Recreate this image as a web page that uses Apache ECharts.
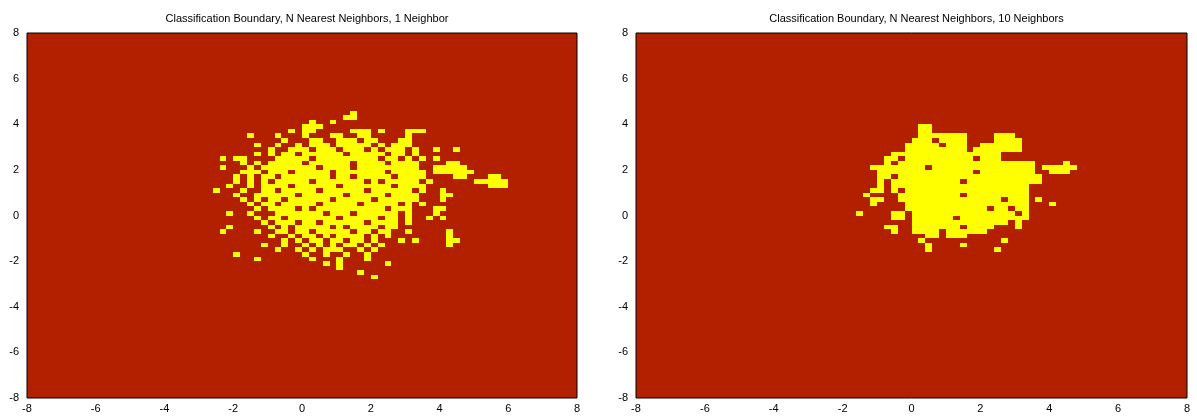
<!DOCTYPE html>
<html><head><meta charset="utf-8">
<script src="https://cdn.jsdelivr.net/npm/echarts@6/dist/echarts.min.js"></script>
<style>html,body{margin:0;padding:0;background:#fff}#c{width:1197px;height:418px}</style>
</head><body><div id="c"></div>
<script>
// ---------- data ----------
const titles = [
  'Classification Boundary, N Nearest Neighbors, 1 Neighbor',
  'Classification Boundary, N Nearest Neighbors, 10 Neighbors'
];
const axisMin = -8, axisMax = 8, axisStep = 2;
// decision map: cells of 0.2 x 0.2, columns from x=-3.0 to 6.0, rows from y=4.6 (top) down to -3.0
// '#' = class 1 (yellow), '.' = class 0 (dark red); spaces only group every 1.0 unit
const cellSize = 0.2, gridX0 = -3.0, gridYTop = 4.6;
const leftRows = [
  "..... ..... ..... ..... ..#.. ..... ..... ..... .....",
  "..... ..... ..... ..... .##.. ..... ..... ..... .....",
  "..... ..... ..... .#..# ..... ..... ..... ..... .....",
  "..... ..... ..... ###.. ..... ..... ..... ..... .....",
  "..... ..... ...#. ##... ..### .#... ###.. ..... .....",
  "..... ..#.. .#... #...# #..## ..... #.... ..... .....",
  "..... ..... ..#.. .##.. ###.# #...# #.... ..... .....",
  "..... ...#. .#..# .###. ##### .#.## #.... ..... .....",
  "..... ..... #..## #.### .###. #.### .#..# ..#.. .....",
  "..... ...#. #.##. ##### #.### ##.## .#... ..... .....",
  "...#. ##... .#### #.### ##### #.##. #.#.# ..... .....",
  "..... .#.#. ##### .#### ##.## ##.## ##... .##.. .....",
  "...#. ..#.# ##### ##.## ##.## ##### ##..# ####. .....",
  "..... .###. ###.# ####. ##### ##.## ###.# ##### .....",
  "..... #.#.# #.### ####. ##.## ###.# ###.. ..##. ..##.",
  "..... #.#.# .#### #.### ####. #.### ##.#. ..... #####",
  "....# ..#.# ###.# ##### .#### ###.# ###.. ..... ..###",
  "..#.. .#..# #.### ##.## ####. ##### #.#.. #.... .....",
  "..... #..## ####. ##### #.### ##.## ##... ##... .....",
  "..... .#.#. ##.## ####. ##### .#### ##... #.... .....",
  "..... ..#.# #.### ##.## ###.# ####. #.#.. ..... .....",
  "..... ...#. ####. #.### ##### ##.## #...# #.... .....",
  "....# ..#.. .#### ###.# ##.## ####. #...# ..... .....",
  "..... ...#. ##.## ##### .#### #.##. #..#. #.... .....",
  "..... ....# .###. ##.## ####. ####. #.... ..... .....",
  "....# ..... #.#.# ####. #.### #.##. ..... ..... .....",
  "...#. ...#. .##.# #.### ##.## .##.. #.... .#... .....",
  "..... ..... #..#. ##.#. ####. #.#.. ..... .#... .....",
  "..... ..... ..#.# .##.# #.##. #...# .#... .##.. .....",
  "..... ....# ..#.. #.#.# .##.# .#... ..... .#... .....",
  "..... ..... .#..# .#.## #..#. #.... ..... ..... .....",
  "..... #.... ..... #..#. .#..# ..... ..... ..... .....",
  "..... ...#. ..... .#... #...# ..... ..... ..... .....",
  "..... ..... ..... ...#. #.... ..#.. ..... ..... .....",
  "..... ..... ..... ..... #.... ..... ..... ..... .....",
  "..... ..... ..... ..... ...#. ..... ..... ..... .....",
  "..... ..... ..... ..... ..... #.... ..... ..... .....",
  "..... ..... ..... ..... ..... ..... ..... ..... ....."
];
const rightRows = [
  "..... ..... ..... ..... ..... ..... ..... ..... .....",
  "..... ..... ..... ..... ..... ..... ..... ..... .....",
  "..... ..... ..... ..... ..... ..... ..... ..... .....",
  "..... ..... ..... .##.. ..... ..... ..... ..... .....",
  "..... ..... ..... .##.. ..... ..... ..... ..... .....",
  "..... ..... ..... .#### ###.. ..### ..... ..... .....",
  "..... ..... ..... ###.# ###.. ..### #.... ..... .....",
  "..... ..... ....# ####. ###.. ##### #.... ..... .....",
  "..... ..... ....# ##### ###.# ##### #.... ..... .....",
  "..... ..... ..### ##### ##### ###.. ..... ..... .....",
  "..... ..... .##.# ##### ####. ###.. ..... ..... .....",
  "..... ..... .#.## ##### ##### ##### ###.. ..#.. .....",
  "..... ....# ##### ##.## ##### ##### ###.# ####. .....",
  "..... ..... ##### ##### ####. ##### ###.. ###.. .....",
  "..... ..... ##.## ##### ##### ##### ####. ..... .....",
  "..... ..... #.### ##### ##.## ##### ####. ..... .....",
  "..... ..... #.### ##### ##### ##### ##... ..... .....",
  "..... ....# #.#.# ##### ##### ##### ##... ..... .....",
  "..... ...#. ...## ##### ##.## ##### ##... ..... .....",
  "..... ....# #..## ##### ##### ###.# ##.#. ..... .....",
  "..... ....# ....# ##### ##### ##### ##... #.... .....",
  "..... ..... ....# ##### ##### #.##. ##... ..... .....",
  "..... ..#.. ..##. ##### ##### ##### .#... ..... .....",
  "..... ..... ..##. ##### #.### ##### ##... ..... .....",
  "..... ..... ..... ##### ##### ####. #.... ..... .....",
  "..... ..... .##.. ##### ##.## ##... #.... ..... .....",
  "..... ..... ..#.. ####. ##### #.... ..... ..... .....",
  "..... ..... ..... ..##. ###.. ..... ..... ..... .....",
  "..... ..... ..... .#... ..... ...#. ..... ..... .....",
  "..... ..... ..... ..#.. ..#.. ..... ..... ..... .....",
  "..... ..... ..... ..#.. ..... ..#.. ..... ..... ....."
];
// ---------- styles ----------
const DARK = '#b32000', YELLOW = '#ffff00';
const FONT = 'Liberation Sans, Arial, sans-serif';

function toRuns(rows) {
  const out = [];
  rows.forEach((r, i) => {
    const s = r.replace(/ /g, '');
    const yTop = gridYTop - i * cellSize;
    let j = 0;
    while (j < s.length) {
      if (s[j] === '#') {
        let k = j;
        while (k < s.length && s[k] === '#') k++;
        out.push([gridX0 + j * cellSize, gridX0 + k * cellSize, yTop - cellSize, yTop]);
        j = k;
      } else j++;
    }
  });
  return out;
}

function renderCells(params, api) {
  const a = api.coord([api.value(0), api.value(3)]);
  const b = api.coord([api.value(1), api.value(2)]);
  const x = Math.round(a[0]), y = Math.round(a[1]);
  return {
    type: 'rect',
    shape: { x: x, y: y, width: Math.round(b[0]) - x, height: Math.round(b[1]) - y },
    style: { fill: YELLOW }
  };
}

const grids = [
  { left: 27, right: 620, top: 33, bottom: 20 },
  { left: 636, right: 10, top: 33, bottom: 20 }
];
const centers = [27 + (1197 - 620 - 27) / 2, 636 + (1197 - 10 - 636) / 2];

function axis(idx, isX) {
  return {
    type: 'value', gridIndex: idx, min: axisMin, max: axisMax, interval: axisStep,
    axisLine: { show: false }, axisTick: { show: false }, splitLine: { show: false },
    axisLabel: { color: '#000', fontSize: 11, fontFamily: FONT, margin: isX ? 5 : 8 }
  };
}

const chart = echarts.init(document.getElementById('c'), null, { renderer: 'canvas' });
chart.setOption({
  animation: false,
  backgroundColor: '#fff',
  title: titles.map((t, i) => ({
    text: t, left: centers[i], top: 8, textAlign: 'center',
    textStyle: { fontSize: 11, fontWeight: 'normal', color: '#000', fontFamily: FONT }
  })),
  grid: grids.map(g => Object.assign({ show: true, backgroundColor: DARK, borderColor: '#000', borderWidth: 1 }, g)),
  xAxis: [axis(0, true), axis(1, true)],
  yAxis: [axis(0, false), axis(1, false)],
  series: [leftRows, rightRows].map((rows, i) => ({
    type: 'custom', xAxisIndex: i, yAxisIndex: i, clip: true,
    renderItem: renderCells,
    encode: { x: [0, 1], y: [2, 3] },
    data: toRuns(rows)
  }))
});
</script></body></html>
